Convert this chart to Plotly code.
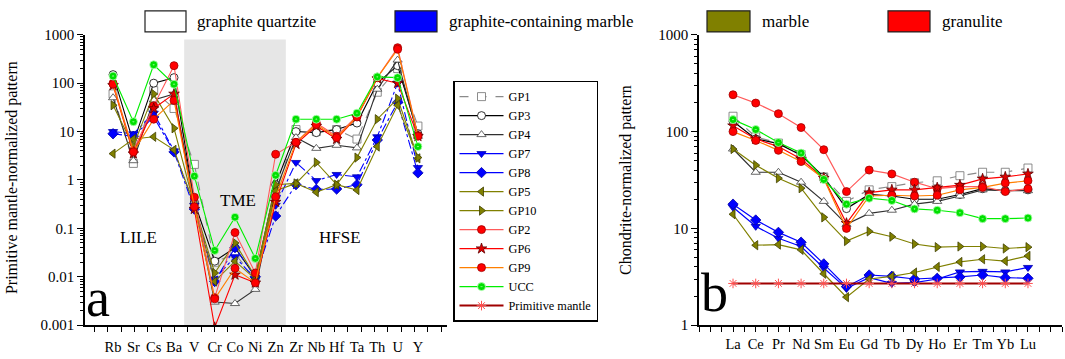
import plotly.graph_objects as go

W, H = 1065, 359

# ---------------- data ----------------
spider_elements = ["Rb", "Sr", "Cs", "Ba", "V", "Cr", "Co", "Ni", "Zn",
                   "Zr", "Nb", "Hf", "Ta", "Th", "U", "Y"]
ree_elements = ["La", "Ce", "Pr", "Nd", "Sm", "Eu", "Gd", "Tb", "Dy",
                "Ho", "Er", "Tm", "Yb", "Lu"]

series_names = ["GP1", "GP3", "GP4", "GP7", "GP8", "GP5", "GP10",
                "GP2", "GP6", "GP9", "UCC", "Primitive mantle"]

# Primitive-mantle normalized (panel a)
pm_GP1 = [60, 2.2, 70, 30, 2.1, 0.02, 0.03, 0.009, 0.5, 11, 10, 11, 7, 65, 200, 13]
pm_GP3 = [150, 6, 100, 130, 0.35, 0.021, 0.04, 0.01, 0.8, 10, 9.5, 11, 15, 100, 230, 9]
pm_GP4 = [50, 2.5, 45, 60, 0.35, 0.003, 0.0028, 0.0055, 0.6, 7.5, 4.5, 5.2, 4.6, 75, 300, 8]
pm_GP7 = [10, 9, 24, 4, 0.3, 0.009, 0.026, 0.009, 0.3, 2.3, 0.97, 1.3, 1.16, 7.8, 100, 1.8]
pm_GP8 = [9, 8, 20, 3.8, 0.25, 0.008, 0.04, 0.01, 0.18, 0.8, 0.64, 0.65, 0.8, 6.7, 40, 1.4]
pm_GP5 = [3.5, 7, 7.8, 4.2, 0.3, 0.008, 0.021, 0.009, 0.6, 0.85, 0.56, 0.8, 0.62, 4.9, 35, 2.8]
pm_GP10 = [35, 5, 60, 11.7, 0.3, 0.012, 0.05, 0.01, 0.8, 0.85, 2.3, 0.8, 2.9, 18, 48, 2.9]
pm_GP2 = [100, 4, 34, 230, 0.44, 0.0037, 0.082, 0.012, 3.4, 6, 15, 8, 21, 130, 540, 8.3]
pm_GP6 = [90, 3.5, 30, 60, 0.25, 0.0009, 0.011, 0.0075, 0.35, 5.5, 13, 7, 20, 125, 100, 8]
pm_GP9 = [95, 3.8, 18, 44, 0.28, 0.0035, 0.015, 0.0075, 0.45, 6, 14, 7.5, 20, 130, 500, 8]
pm_UCC = [140, 16, 240, 95, 1.2, 0.035, 0.17, 0.024, 1.25, 18, 18, 18, 24, 135, 130, 4.9]

# Chondrite normalized (panel b)
ch_GP1 = [144, 88, 76, 58, 34, 19, 25, 27, 29.6, 31, 35, 38, 38, 42]
ch_GP3 = [128, 84, 75, 57, 34, 16, 22.4, 21.6, 20, 20, 22.4, 25.7, 24.5, 25]
ch_GP4 = [66, 38, 38, 30, 19, 11, 14.3, 15.4, 17.8, 19, 21.6, 25, 24.5, 24.5]
ch_GP7 = [16.5, 10.5, 7.9, 6.5, 3.9, 2.4, 3.1, 2.7, 2.75, 3.0, 3.55, 3.6, 3.55, 3.95]
ch_GP8 = [17.8, 12.2, 9.1, 7.2, 4.3, 2.5, 3.3, 3.2, 3.0, 3.05, 3.15, 3.3, 3.1, 3.05]
ch_GP5 = [14, 6.7, 6.8, 6.0, 3.4, 1.95, 3.0, 3.2, 3.5, 4.0, 4.5, 4.8, 4.6, 5.2]
ch_GP10 = [66, 45, 33, 26, 13, 7.4, 9.3, 8.2, 6.9, 6.4, 6.5, 6.5, 6.2, 6.4]
ch_GP2 = [240, 197, 153, 110, 65, 24, 40, 36.5, 30, 25.7, 27, 27, 24, 25.7]
ch_GP6 = [115, 84, 70, 52, 33, 11.3, 23.4, 25, 25, 26.3, 28, 32.5, 34, 36.5]
ch_GP9 = [100, 81, 64, 49, 32.5, 10, 21.6, 22, 21.6, 22, 25, 26.5, 29.4, 31]
ch_UCC = [133, 105, 77, 60, 32, 17.8, 20.5, 19.4, 15.9, 15.4, 14.5, 12.6, 12.6, 12.8]
ch_PM = [2.7, 2.7, 2.7, 2.7, 2.7, 2.7, 2.7, 2.7, 2.7, 2.7, 2.7, 2.7, 2.7, 2.7]

rock_types = ["graphite quartzite", "graphite-containing marble", "marble", "granulite"]
rock_colors = ["#FFFFFF", "#0000FF", "#808000", "#FF0000"]

panel_a = [pm_GP1, pm_GP3, pm_GP4, pm_GP7, pm_GP8, pm_GP5, pm_GP10,
           pm_GP2, pm_GP6, pm_GP9, pm_UCC, None]
panel_b = [ch_GP1, ch_GP3, ch_GP4, ch_GP7, ch_GP8, ch_GP5, ch_GP10,
           ch_GP2, ch_GP6, ch_GP9, ch_UCC, ch_PM]

# ---------------- styles ----------------
styles = {
    "GP1": dict(lc="#8A8A8A", sym="square", fc="#FFFFFF", mc="#707070", dash="dash"),
    "GP3": dict(lc="#000000", sym="circle", fc="#FFFFFF", mc="#000000", dash="solid"),
    "GP4": dict(lc="#303030", sym="triangle-up", fc="#FFFFFF", mc="#404040", dash="solid"),
    "GP7": dict(lc="#0000FF", sym="triangle-down", fc="#0000FF", mc="#0000AA", dash="solid"),
    "GP8": dict(lc="#0000FF", sym="diamond", fc="#0000FF", mc="#0000AA", dash="solid"),
    "GP5": dict(lc="#808000", sym="triangle-left", fc="#808000", mc="#404000", dash="solid"),
    "GP10": dict(lc="#808000", sym="triangle-right", fc="#808000", mc="#404000", dash="solid"),
    "GP2": dict(lc="#FF5A5A", sym="circle", fc="#FF0000", mc="#A00000", dash="solid"),
    "GP6": dict(lc="#FF0000", sym="star", fc="#E00000", mc="#600000", dash="solid"),
    "GP9": dict(lc="#FF7F00", sym="circle", fc="#FF0000", mc="#A00000", dash="solid"),
    "UCC": dict(lc="#00EE00", sym="circle-dot", fc="#00E000", mc="#B8FFB8", dash="solid"),
    "Primitive mantle": dict(lc="#A00000", sym="asterisk-open", fc="#FF5050", mc="#FF5050", dash="solid"),
}

fig = go.Figure()

xa = [i + 1 for i in range(len(spider_elements))]
xb = [i + 1 for i in range(len(ree_elements))]

FONT = "Liberation Serif"

for name, vals in zip(series_names, panel_a):
    if vals is None:
        continue
    s = styles[name]
    dash = "dashdot" if name in ("GP7", "GP8") else s["dash"]
    fig.add_trace(go.Scatter(
        x=xa, y=vals, mode="lines+markers", name=name, showlegend=False,
        xaxis="x", yaxis="y",
        line=dict(color=s["lc"], width=1.1, dash=dash),
        marker=dict(symbol=s["sym"], size=8, color=s["fc"],
                    line=dict(color=s["mc"], width=0.8)),
    ))

for name, vals in zip(series_names, panel_b):
    s = styles[name]
    lw = 2 if name == "Primitive mantle" else 1.2
    fig.add_trace(go.Scatter(
        x=xb, y=vals, mode="lines+markers", name=name, showlegend=True,
        xaxis="x2", yaxis="y2",
        line=dict(color=s["lc"], width=lw, dash=s["dash"]),
        marker=dict(symbol=s["sym"], size=8, color=s["fc"],
                    line=dict(color=s["mc"], width=0.8 if name != "Primitive mantle" else 1)),
    ))

def px_x(p):
    return p / W

def px_y(p):
    return 1 - p / H

y_dom = [px_y(332), px_y(28)]

axis_common = dict(
    showline=True, linecolor="black", linewidth=1.5, mirror=False,
    tickcolor="black", tickwidth=1.2,
    showgrid=False, zeroline=False,
)
xtickfont = dict(family=FONT, size=14.5, color="black")
ytickfont = dict(family=FONT, size=15, color="black")

xa_lo, xa_hi = -0.38, 17.43
fig.update_layout(
    width=W, height=H,
    margin=dict(l=0, r=0, t=0, b=0),
    paper_bgcolor="white", plot_bgcolor="rgba(0,0,0,0)",
    font=dict(family=FONT, size=14, color="black"),
    xaxis=dict(domain=[px_x(85), px_x(447)], range=[xa_lo, xa_hi],
               tickmode="array", tickvals=xa, ticktext=spider_elements,
               ticks="outside", ticklen=0, ticklabelstandoff=8, tickfont=xtickfont,
               minor=dict(dtick=0.656, tick0=0.08, ticks="outside", ticklen=5,
                          tickcolor="black", tickwidth=1.2),
               anchor="y", **axis_common),
    yaxis=dict(domain=y_dom, type="log", range=[-3, 3],
               tickmode="array", tickvals=[0.001, 0.01, 0.1, 1, 10, 100, 1000],
               ticktext=["0.001", "0.01", "0.1", "1", "10", "100", "1000"],
               ticks="outside", ticklen=6, tickfont=ytickfont,
               minor=dict(ticks="outside", ticklen=3, tickcolor="black",
                          tickwidth=1, dtick="D1"),
               anchor="x", **axis_common),
    xaxis2=dict(domain=[px_x(699), px_x(1062)], range=[-0.5, 15.5],
                tickmode="array", tickvals=xb, ticktext=ree_elements,
                ticks="outside", ticklen=5, tickfont=xtickfont,
                minor=dict(dtick=0.5, tick0=0.5, ticks="outside", ticklen=5,
                           tickcolor="black", tickwidth=1.2),
                anchor="y2", **axis_common),
    yaxis2=dict(domain=y_dom, type="log", range=[0, 3],
                tickmode="array", tickvals=[1, 10, 100, 1000],
                ticktext=["1", "10", "100", "1000"],
                ticks="outside", ticklen=6, tickfont=ytickfont,
                minor=dict(ticks="outside", ticklen=3, tickcolor="black",
                           tickwidth=1, dtick="D1"),
                anchor="x2", **axis_common),
    legend=dict(x=px_x(453), y=px_y(76), xanchor="left", yanchor="top",
                bordercolor="black", borderwidth=1.5, bgcolor="white",
                font=dict(family=FONT, size=12.3, color="black"),
                itemwidth=44, tracegroupgap=0),
    showlegend=True,
)

# grey TME band
fig.add_shape(type="rect", xref="x", yref="paper",
              x0=4.5, x1=9.5, y0=px_y(332), y1=px_y(33),
              fillcolor="#E6E6E6", line=dict(width=0), layer="below")

# rock-type key at top
key_x = [(145, 186), (395, 437), (707, 750), (888, 930)]
text_x = [195, 447, 760, 940]
for (x0, x1), tx, label, col in zip(key_x, text_x, rock_types, rock_colors):
    fig.add_shape(type="rect", xref="paper", yref="paper",
                  x0=px_x(x0), x1=px_x(x1), y0=px_y(25), y1=px_y(3),
                  fillcolor=col, line=dict(color="#202020", width=1.2))
    fig.add_annotation(x=px_x(tx), y=px_y(14), xref="paper", yref="paper",
                       text=label, showarrow=False, xanchor="left", yanchor="middle",
                       font=dict(family=FONT, size=17, color="black"))

# axis titles
fig.add_annotation(x=px_x(12), y=px_y(178), xref="paper", yref="paper",
                   text="Primitive mantle-normalized pattern", textangle=-90,
                   xanchor="center", yanchor="middle",
                   showarrow=False, font=dict(family=FONT, size=16))
fig.add_annotation(x=px_x(626), y=px_y(180), xref="paper", yref="paper",
                   text="Chondrite-normalized pattern", textangle=-90,
                   xanchor="center", yanchor="middle",
                   showarrow=False, font=dict(family=FONT, size=16))

# group labels
for txt, cx, cy in [("LILE", 138, 240), ("TME", 238, 202), ("HFSE", 340, 240)]:
    fig.add_annotation(x=px_x(cx), y=px_y(cy), xref="paper", yref="paper",
                       text=txt, showarrow=False, xanchor="center", yanchor="middle",
                       font=dict(family=FONT, size=17))

# panel letters
fig.add_annotation(x=px_x(98), y=px_y(304), xref="paper", yref="paper",
                   text="a", showarrow=False, xanchor="center", yanchor="middle",
                   font=dict(family=FONT, size=54))
fig.add_annotation(x=px_x(714), y=px_y(298), xref="paper", yref="paper",
                   text="b", showarrow=False, xanchor="center", yanchor="middle",
                   font=dict(family=FONT, size=54))

fig.write_html("out.html", config={"displayModeBar": False},
               post_script="document.body.style.margin='0';document.body.style.padding='0';")
